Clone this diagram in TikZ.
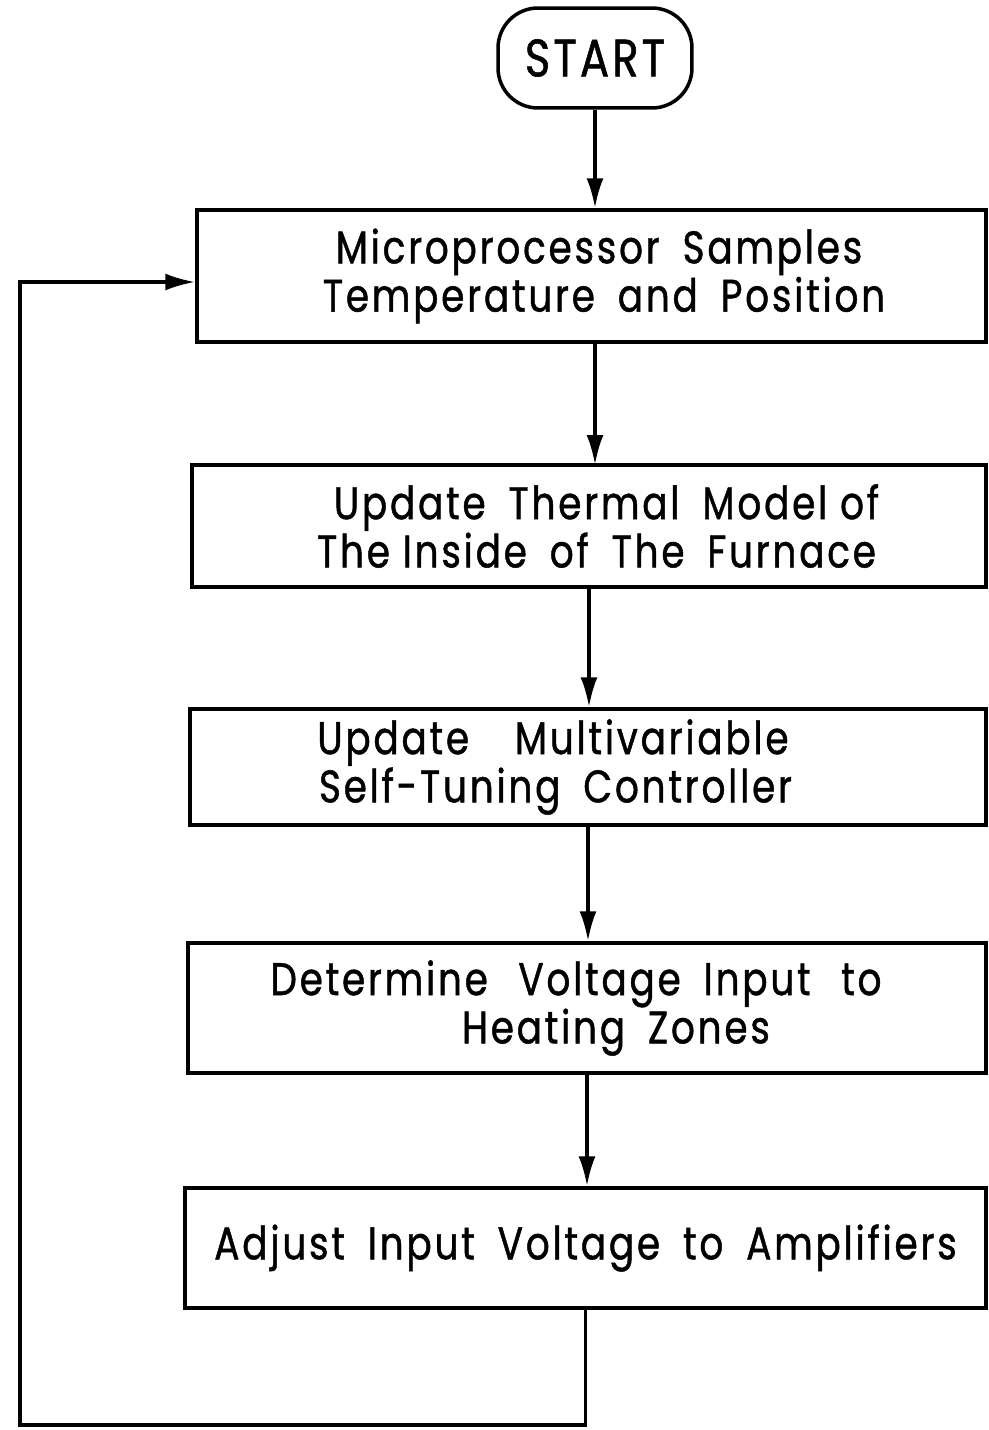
\documentclass[tikz,border=0pt]{standalone}
\usepackage{fontspec}
\setmainfont{Poppins}[FakeStretch=0.82,LetterSpace=6,FakeBold=1]
\usepackage{tikz}
\usetikzlibrary{arrows.meta}

\tikzset{
  stepbox/.style={draw,line width=2pt,align=center,inner sep=0pt,
    font=\fontsize{26}{27.5}\selectfont},
  flow/.style={line width=2pt,-{Latex[length=0.6cm,width=0.34cm]}}
}

\begin{document}
\begin{tikzpicture}[x=0.02cm,y=-0.02cm]
  \useasboundingbox (0,0) rectangle (988,1430);
  % start terminal
  \node[draw,line width=2pt,rounded corners=0.8cm,minimum width=3.88cm,minimum height=2cm,
    font=\fontsize{30}{32}\selectfont] (start) at (595,58) {START};
  % process boxes
  \node[stepbox,minimum width=15.78cm,minimum height=2.64cm] (sample) at (591.5,276)
    {\hspace*{0.3cm}Microprocessor\enspace Samples\\\hspace*{0.5cm}Temperature\enspace and\enspace Position};
  \node[stepbox,minimum width=15.88cm,minimum height=2.44cm] (model) at (589,526)
    {\hspace*{0.7cm}Update\enspace Thermal\enspace Model of\\\hspace*{0.3cm}The Inside\enspace of\enspace The\enspace Furnace};
  \node[stepbox,minimum width=15.92cm,minimum height=2.32cm] (tune) at (588,767)
    {Update\enspace\enspace Multivariable\hspace*{1.4cm}\\Self-Tuning\enspace Controller\hspace*{1.3cm}};
  \node[stepbox,minimum width=15.96cm,minimum height=2.6cm] (volt) at (587,1008)
    {Determine\enspace\thinspace Voltage\enspace Input\enspace\thinspace to\hspace*{0.44cm}\\\hspace*{1.16cm}Heating\enspace Zones};
  \node[stepbox,minimum width=16.02cm,minimum height=2.4cm] (amp) at (585.5,1248)
    {Adjust\enspace Input\enspace Voltage\enspace to\enspace Amplifiers};
  % loop back corners
  \coordinate (lb) at (20,1425);
  \coordinate (lt) at (20,282);
  % connectors
  \draw[flow] (start.south) -- (start.south |- sample.north);
  \draw[flow] (595,342) -- (595,465);
  \draw[flow] (model.south) -- (model.south |- tune.north);
  \draw[flow] (tune.south) -- (tune.south |- volt.north);
  \draw[flow] (volt.south) -- (volt.south |- amp.north);
  \draw[flow] (amp.south) |- (lb) -- (lt) -- (lt -| sample.west);
\end{tikzpicture}
\end{document}
